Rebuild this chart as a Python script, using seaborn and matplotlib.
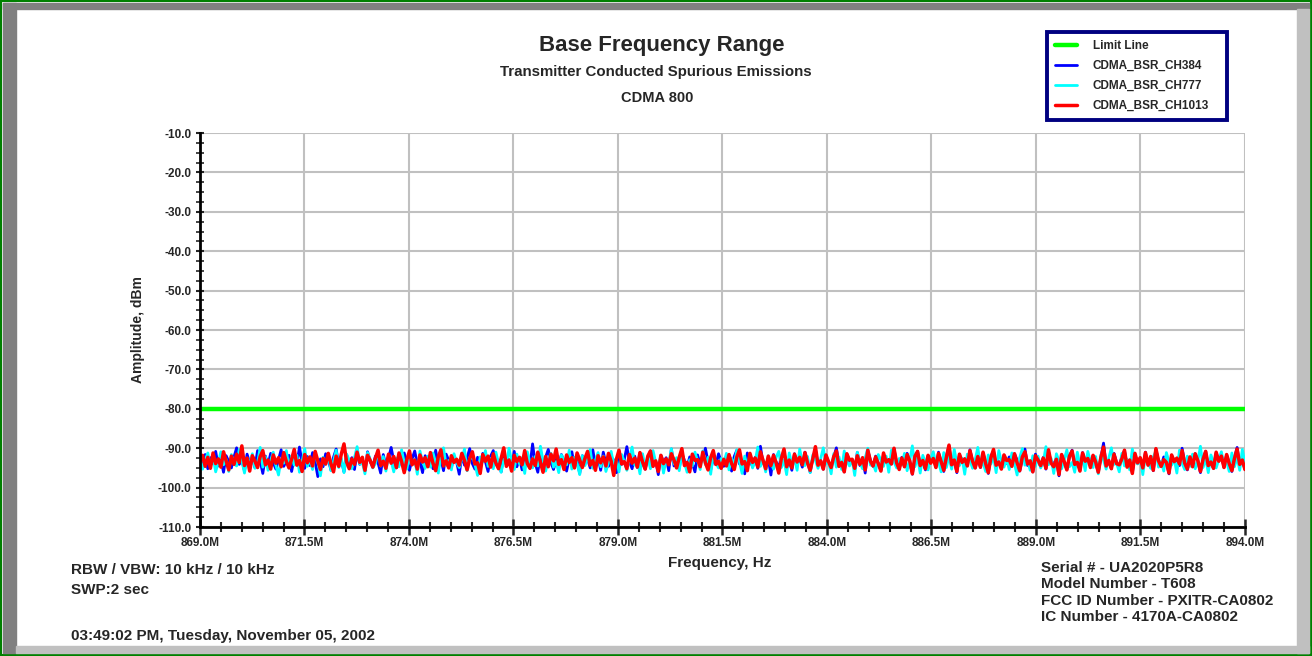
import numpy as np
import pandas as pd
import matplotlib
matplotlib.use("Agg")
import matplotlib.pyplot as plt
from matplotlib.patches import Rectangle
from matplotlib.ticker import MultipleLocator, FormatStrFormatter, FuncFormatter
import seaborn as sns

# sweep span (MHz) and limit
f_start, f_stop = 869.0, 894.0
limit_freq = [869.0, 894.0]
limit_level = [-80.0, -80.0]

# traces (dBm), low to high frequency
ch384 = [
    -93.1, -94.8, -91.6, -95.2, -92.4, -93.9, -90.8, -94.5, -92.9, -96.1,
    -91.9, -93.4, -95.0, -92.2, -89.9, -94.1, -93.0, -95.7, -91.5, -93.8,
    -92.6, -94.9, -90.6, -93.3, -96.4, -92.0, -94.2, -91.3, -93.7, -95.3,
    -92.8, -90.4, -94.6, -93.2, -91.8, -95.9, -92.5, -94.0, -89.7, -93.6,
    -95.1, -92.1, -94.4, -91.1, -93.5, -97.2, -92.7, -94.7, -91.4, -93.0,
    -95.5, -92.3, -90.2, -94.3, -93.1, -96.0, -91.7, -93.9, -92.4, -95.4,
    -91.0, -94.1, -92.9, -95.8, -90.9, -93.4, -94.8, -92.0, -93.7, -96.3,
    -91.6, -94.5, -92.6, -89.8, -93.2, -95.0, -92.2, -94.2, -91.2, -93.8,
    -95.6, -92.7, -90.7, -94.0, -93.3, -96.2, -91.9, -93.6, -92.5, -95.2,
    -90.5, -94.4, -92.8, -95.7, -91.5, -93.1, -94.9, -92.1, -93.5, -96.6,
    -91.8, -94.3, -92.4, -90.1, -93.9, -95.3, -92.3, -94.6, -91.3, -93.4,
    -95.9, -92.0, -90.6, -94.1, -93.0, -96.0, -91.7, -93.7, -92.9, -95.1,
    -90.8, -94.7, -92.6, -95.5, -91.1, -93.2, -94.5, -88.9, -93.8, -96.1,
    -91.4, -94.2, -92.2, -90.3, -93.6, -95.4, -92.8, -94.0, -91.6, -93.3,
    -95.8, -92.5, -90.9, -94.8, -93.1, -96.4, -91.9, -93.5, -92.7, -95.0,
    -90.4, -94.4, -92.1, -95.6, -91.0, -93.9, -94.6, -92.3, -93.0, -96.2,
    -91.5, -94.1, -92.9, -89.6, -93.4, -95.2, -92.0, -94.9, -91.2, -93.7,
    -95.3, -92.6, -90.7, -94.3, -93.2, -96.7, -91.8, -93.6, -92.4, -95.7,
    -90.2, -94.5, -92.8, -95.1, -91.3, -93.1, -94.7, -92.2, -93.8, -96.0,
    -91.7, -94.0, -92.5, -90.0, -93.5, -95.5, -92.7, -94.2, -91.4, -93.3,
    -94.6, -91.9, -93.3, -95.8, -92.1, -90.5, -94.0, -93.6, -96.5, -91.2,
    -93.0, -94.7, -92.3, -95.1, -89.5, -93.8, -94.3, -92.6, -96.8, -91.6,
    -93.5, -95.0, -92.0, -90.9, -94.5, -93.2, -95.6, -91.4, -93.9, -92.7,
    -94.8, -91.0, -93.4, -96.1, -92.4, -90.3, -94.2, -93.1, -95.3, -91.8,
    -93.6, -94.9, -92.2, -89.9, -94.1, -93.7, -96.0, -91.5, -93.3, -92.8,
    -95.4, -91.1, -94.4, -92.5, -96.3, -90.6, -93.0, -94.6, -92.0, -93.8,
    -95.7, -91.7, -93.4, -92.9, -94.0, -90.1, -93.9, -95.2, -92.3, -94.7,
    -91.3, -93.2, -96.6, -92.6, -90.8, -94.3, -93.5, -95.5, -91.9, -93.1,
    -92.4, -94.8, -91.0, -93.7, -95.9, -92.1, -89.4, -94.5, -93.0, -96.2,
    -91.6, -93.6, -92.7, -94.2, -90.4, -93.3, -95.0, -92.5, -94.9, -91.2,
    -93.8, -96.4, -92.0, -90.7, -94.6, -93.4, -95.1, -91.8, -93.9, -92.2,
    -94.1, -91.4, -93.0, -95.8, -92.8, -90.2, -94.4, -93.6, -96.0, -91.5,
    -93.2, -94.7, -92.3, -95.3, -90.9, -93.5, -94.0, -92.6, -97.0, -91.7,
    -93.7, -95.4, -92.1, -90.5, -94.8, -93.1, -95.6, -91.1, -93.4, -92.9,
    -94.3, -91.9, -93.8, -96.1, -92.4, -88.7, -94.2, -93.3, -95.2, -91.3,
    -93.6, -94.9, -92.0, -90.6, -94.5, -93.0, -96.3, -91.6, -93.9, -92.7,
    -95.0, -91.0, -94.1, -92.5, -95.7, -90.3, -93.2, -94.6, -92.2, -93.5,
    -96.5, -91.8, -93.4, -92.8, -94.4, -90.0, -93.7, -95.5, -92.3, -94.0,
    -91.4, -93.1, -96.2, -92.6, -90.8, -94.7, -93.6, -95.1, -91.2, -93.3,
    -92.1, -94.8, -91.7, -93.8, -95.9, -92.4, -89.8, -94.3, -93.0, -95.4,
]
ch777 = [
    -92.4, -95.3, -93.0, -91.2, -94.7, -92.1, -96.0, -93.6, -90.9, -94.2,
    -92.8, -95.9, -91.6, -93.9, -94.5, -90.3, -93.2, -96.3, -92.5, -94.0,
    -91.4, -95.1, -93.7, -89.8, -94.8, -92.2, -95.6, -93.1, -91.0, -94.4,
    -96.8, -92.7, -93.8, -90.6, -95.0, -92.0, -94.3, -91.8, -96.1, -93.4,
    -90.1, -94.6, -92.9, -95.4, -91.3, -93.5, -97.0, -92.3, -94.1, -91.7,
    -95.7, -93.3, -90.5, -94.9, -92.6, -96.2, -91.5, -93.0, -95.2, -92.4,
    -89.6, -94.0, -93.6, -96.5, -91.1, -92.8, -95.0, -93.9, -90.8, -94.5,
    -92.1, -95.8, -91.9, -93.2, -96.0, -92.5, -94.7, -90.4, -93.7, -95.3,
    -91.6, -94.2, -92.9, -96.6, -90.7, -93.4, -95.1, -92.0, -94.8, -91.2,
    -93.8, -96.3, -92.3, -89.9, -94.4, -93.1, -95.5, -91.4, -93.6, -94.9,
    -92.7, -90.2, -95.7, -93.0, -91.8, -94.1, -96.9, -92.2, -93.5, -90.6,
    -94.6, -92.6, -95.2, -91.0, -93.9, -96.1, -92.8, -94.3, -90.0, -93.3,
    -95.4, -91.5, -94.0, -92.4, -96.4, -90.9, -93.7, -95.0, -92.1, -94.5,
    -89.5, -93.2, -95.8, -92.9, -91.3, -94.8, -93.4, -96.2, -91.7, -93.0,
    -94.2, -90.5, -95.3, -92.3, -93.8, -96.7, -91.9, -94.4, -92.6, -90.3,
    -95.1, -93.1, -91.1, -94.7, -92.0, -95.9, -93.6, -90.8, -94.1, -92.7,
    -96.0, -91.6, -93.3, -95.6, -92.5, -89.7, -94.3, -93.0, -96.5, -91.4,
    -94.9, -92.2, -95.2, -90.6, -93.5, -94.6, -91.8, -96.3, -92.8, -93.9,
    -90.1, -94.0, -92.4, -95.7, -91.2, -93.7, -96.1, -92.9, -94.5, -91.0,
    -93.2, -95.4, -90.7, -94.2, -92.3, -96.6, -91.5, -93.8, -95.0, -92.6,
    -93.9, -91.3, -95.5, -92.6, -94.1, -90.4, -93.4, -96.4, -92.0, -94.7,
    -91.5, -95.0, -93.2, -89.7, -94.6, -92.8, -96.0, -91.9, -93.6, -95.3,
    -92.3, -90.8, -94.9, -93.0, -96.7, -91.2, -94.2, -92.5, -95.6, -90.2,
    -93.8, -94.4, -92.1, -96.2, -91.7, -93.1, -95.1, -92.7, -89.9, -94.0,
    -93.5, -96.5, -91.4, -94.8, -92.2, -95.4, -90.7, -93.3, -94.5, -92.9,
    -96.9, -91.0, -93.7, -95.2, -92.4, -90.0, -94.3, -93.9, -95.8, -91.6,
    -93.0, -94.6, -92.0, -96.1, -90.5, -93.5, -95.0, -92.6, -94.2, -91.3,
    -95.7, -93.2, -89.4, -94.7, -92.3, -96.3, -91.8, -93.6, -95.5, -92.8,
    -90.9, -94.1, -93.4, -96.0, -91.1, -94.9, -92.1, -95.3, -90.3, -93.8,
    -94.4, -92.5, -96.6, -91.5, -93.1, -95.1, -92.9, -89.8, -94.5, -93.7,
    -95.9, -91.7, -94.0, -92.2, -96.2, -90.6, -93.3, -94.8, -92.7, -95.4,
    -91.2, -93.9, -96.8, -92.4, -90.1, -94.3, -93.0, -95.6, -91.9, -94.6,
    -92.0, -95.0, -93.5, -89.6, -94.2, -92.6, -96.4, -91.4, -93.2, -95.2,
    -92.9, -90.4, -94.7, -93.6, -96.1, -91.0, -94.4, -92.3, -95.7, -90.8,
    -93.4, -94.9, -92.1, -96.5, -91.6, -93.0, -95.3, -92.5, -89.9, -94.1,
    -93.8, -96.0, -91.3, -94.5, -92.8, -95.5, -90.2, -93.1, -94.0, -92.4,
    -96.7, -91.8, -93.7, -95.1, -92.2, -90.7, -94.8, -93.3, -95.8, -91.1,
    -93.5, -94.3, -92.7, -96.3, -90.5, -93.9, -95.4, -92.0, -94.6, -91.5,
    -95.2, -93.2, -89.5, -94.9, -92.6, -96.2, -91.7, -93.6, -95.0, -92.9,
    -90.9, -94.2, -93.4, -95.9, -91.2, -94.7, -92.3, -95.6, -90.3, -93.8,
]
ch1013 = [
    -93.5, -91.8, -94.6, -92.3, -95.1, -91.2, -93.9, -92.7, -94.8, -90.9,
    -93.2, -95.5, -92.0, -94.1, -91.5, -93.6, -89.4, -94.4, -92.5, -95.8,
    -91.9, -93.3, -94.9, -92.1, -90.6, -94.2, -93.0, -95.3, -91.7, -93.8,
    -92.4, -94.7, -91.1, -93.4, -95.0, -92.8, -90.3, -94.3, -93.1, -95.9,
    -91.6, -93.7, -92.2, -94.5, -90.8, -93.2, -95.4, -92.6, -94.0, -91.3,
    -93.9, -96.0, -92.0, -94.6, -91.4, -88.9, -93.5, -95.2, -92.7, -94.1,
    -91.0, -93.6, -92.3, -95.6, -91.8, -93.1, -94.8, -92.5, -90.5, -94.4,
    -93.3, -95.1, -91.5, -93.8, -92.1, -94.9, -91.2, -93.4, -96.2, -92.9,
    -90.7, -94.2, -93.0, -95.3, -91.7, -93.5, -92.4, -94.7, -91.1, -93.9,
    -95.7, -92.2, -90.4, -94.5, -93.2, -95.0, -91.9, -93.6, -92.8, -94.3,
    -91.3, -93.1, -95.5, -92.6, -90.9, -94.0, -93.7, -96.4, -91.6, -93.3,
    -92.0, -94.8, -91.4, -93.8, -95.2, -92.5, -89.9, -94.6, -93.0, -95.8,
    -91.8, -93.4, -92.3, -94.2, -90.6, -93.9, -95.1, -92.7, -94.4, -91.0,
    -93.5, -96.1, -92.1, -94.7, -91.5, -93.2, -90.2, -94.1, -92.9, -95.4,
    -91.7, -93.6, -92.4, -95.0, -91.2, -93.0, -94.9, -92.6, -90.8, -94.3,
    -93.1, -95.6, -91.9, -93.7, -92.2, -94.5, -91.3, -93.3, -96.9, -92.8,
    -90.5, -94.0, -93.4, -95.2, -91.6, -93.8, -92.5, -94.8, -91.1, -93.5,
    -95.3, -92.0, -90.7, -94.6, -93.2, -95.9, -91.8, -93.9, -92.7, -94.2,
    -91.4, -93.0, -95.0, -92.3, -90.1, -94.4, -93.6, -96.0, -91.5, -93.1,
    -92.9, -94.7, -91.0, -93.7, -95.5, -92.4, -90.6, -94.1, -93.3, -95.1,
    -92.8, -94.5, -91.6, -93.9, -95.4, -92.2, -90.4, -94.0, -93.4, -95.7,
    -91.3, -93.6, -92.5, -94.8, -90.9, -93.1, -95.2, -92.0, -94.4, -91.8,
    -93.7, -96.3, -92.6, -90.2, -94.7, -93.0, -95.0, -91.5, -93.5, -92.3,
    -94.2, -91.1, -93.8, -95.6, -92.7, -89.6, -94.3, -93.2, -95.3, -91.7,
    -93.4, -94.9, -92.1, -90.7, -94.6, -93.6, -96.0, -91.4, -93.0, -92.8,
    -95.1, -91.9, -94.1, -92.4, -95.5, -90.5, -93.3, -94.5, -92.2, -93.9,
    -95.8, -91.2, -93.5, -92.9, -94.0, -90.0, -93.7, -95.4, -92.5, -94.7,
    -91.6, -93.2, -96.5, -92.0, -90.8, -94.4, -93.1, -95.2, -91.8, -93.8,
    -92.6, -94.9, -91.3, -93.4, -95.6, -92.3, -89.2, -94.2, -93.0, -95.9,
    -91.5, -93.6, -92.7, -94.5, -90.6, -93.3, -95.0, -92.1, -94.8, -91.0,
    -93.9, -96.2, -92.4, -90.3, -94.3, -93.5, -95.3, -91.7, -93.1, -92.9,
    -94.6, -91.4, -93.7, -95.7, -92.2, -90.9, -94.0, -93.2, -96.0, -91.9,
    -93.0, -94.4, -92.5, -95.1, -90.4, -93.8, -94.7, -92.8, -96.7, -91.6,
    -93.4, -95.5, -92.0, -90.7, -94.1, -93.6, -95.8, -91.2, -93.3, -92.6,
    -94.9, -91.8, -93.5, -96.1, -92.3, -89.7, -94.5, -93.1, -95.2, -91.5,
    -93.9, -94.2, -92.7, -90.5, -94.8, -93.0, -96.4, -91.3, -93.7, -92.4,
    -95.0, -91.1, -94.3, -92.1, -95.6, -90.1, -93.2, -94.6, -92.9, -93.6,
    -96.3, -91.7, -93.4, -92.5, -94.0, -90.6, -93.8, -95.3, -92.2, -94.7,
    -91.4, -93.1, -95.9, -92.8, -90.8, -94.4, -93.5, -95.1, -91.0, -93.3,
    -92.0, -94.9, -91.6, -93.9, -95.7, -92.6, -90.2, -94.1, -93.0, -95.4,
]

freq = np.linspace(f_start, f_stop, len(ch384))

sns.set_style("white")
plt.rcParams["font.family"] = ["Liberation Sans", "DejaVu Sans"]
plt.rcParams["font.weight"] = "bold"

fig = plt.figure(figsize=(13.12, 6.56), dpi=100)
ax = fig.add_axes([0.1524, 0.1966, 0.7965, 0.6006])

# frame round the picture
fig.patches.extend([
    Rectangle((0, 0), 1, 1, transform=fig.transFigure, fill=False,
              edgecolor="#008000", lw=3, zorder=0),
    Rectangle((3 / 1312, 3 / 656), 13 / 1312, 650 / 656, transform=fig.transFigure,
              color="#808080", zorder=0),
    Rectangle((3 / 1312, 647 / 656), 1306 / 1312, 6 / 656, transform=fig.transFigure,
              color="#808080", zorder=0),
    Rectangle((1297 / 1312, 3 / 656), 12 / 1312, 644 / 656, transform=fig.transFigure,
              color="#C0C0C0", zorder=0),
    Rectangle((16 / 1312, 3 / 656), 1293 / 1312, 7 / 656, transform=fig.transFigure,
              color="#C0C0C0", zorder=0),
])

sns.lineplot(x=limit_freq, y=limit_level, ax=ax, color="#00FF00", lw=3.2,
             label="Limit Line", zorder=5)
sns.lineplot(x=freq, y=ch384, ax=ax, color="#0000FF", lw=2.0,
             label="CDMA_BSR_CH384", zorder=2)
sns.lineplot(x=freq, y=ch777, ax=ax, color="#00FFFF", lw=2.0,
             label="CDMA_BSR_CH777", zorder=3)
sns.lineplot(x=freq, y=ch1013, ax=ax, color="#FF0000", lw=2.5,
             label="CDMA_BSR_CH1013", zorder=4)

ax.set_xlim(f_start, f_stop)
ax.set_ylim(-110, -10)
ax.xaxis.set_major_locator(MultipleLocator(2.5, offset=f_start))
ax.xaxis.set_minor_locator(MultipleLocator(0.5, offset=f_start))
ax.yaxis.set_major_locator(MultipleLocator(10))
ax.yaxis.set_minor_locator(MultipleLocator(2.5))
ax.xaxis.set_major_formatter(FuncFormatter(lambda v, p: f"{v:.1f}M"))
ax.yaxis.set_major_formatter(FormatStrFormatter("%.1f"))
ax.grid(True, which="major", color="#C0C0C0", lw=1.5)
ax.set_axisbelow(True)

for s in ["top", "right"]:
    ax.spines[s].set_visible(False)
for s in ["left", "bottom"]:
    ax.spines[s].set_color("black")
    ax.spines[s].set_linewidth(2)
    ax.spines[s].set_zorder(6)

ax.tick_params(axis="x", which="major", direction="inout", length=11, width=1.8,
               labelsize=8.5, pad=2)
ax.tick_params(axis="x", which="minor", direction="inout", length=7, width=1.5)
ax.tick_params(axis="y", which="major", direction="inout", length=6, width=1.5,
               labelsize=8.5, pad=3)
ax.tick_params(axis="y", which="minor", direction="inout", length=6, width=1.2)
ax.tick_params(which="both", bottom=True, left=True)

ax.set_xlabel("Frequency, Hz", fontsize=11, fontweight="bold")
ax.set_ylabel("Amplitude, dBm", fontsize=10, fontweight="bold")
ax.xaxis.label.set_va("center")
ax.yaxis.label.set_va("center")
ax.xaxis.set_label_coords(0.497, (527 - 563) / 394)
ax.yaxis.set_label_coords((138 - 200) / 1045, 0.5)

fig.text(662 / 1312, 1 - 45 / 656, "Base Frequency Range", ha="center", va="center",
         fontsize=16, fontweight="bold")
fig.text(656 / 1312, 1 - 72 / 656, "Transmitter Conducted Spurious Emissions",
         ha="center", va="center", fontsize=10.8, fontweight="bold")
fig.text(657 / 1312, 1 - 98 / 656, "CDMA 800", ha="center", va="center",
         fontsize=10.5, fontweight="bold")

fig.text(71 / 1312, 1 - 570 / 656, "RBW / VBW: 10 kHz / 10 kHz", ha="left",
         va="center", fontsize=11, fontweight="bold")
fig.text(71 / 1312, 1 - 590 / 656, "SWP:2 sec", ha="left", va="center",
         fontsize=11, fontweight="bold")
fig.text(71 / 1312, 1 - 636 / 656, "03:49:02 PM, Tuesday, November 05, 2002",
         ha="left", va="center", fontsize=11, fontweight="bold")

info_lines = ["Serial # - UA2020P5R8", "Model Number - T608",
              "FCC ID Number - PXITR-CA0802", "IC Number - 4170A-CA0802"]
for i, line in enumerate(info_lines):
    fig.text(1041 / 1312, 1 - (568 + 16.3 * i) / 656, line, ha="left",
             va="center", fontsize=11, fontweight="bold")

handles, labels = ax.get_legend_handles_labels()
ax.get_legend().remove()
leg = fig.legend(handles, labels, loc="upper left",
                 bbox_to_anchor=(1047 / 1312, 1 - 39 / 656, 180 / 1312, 0.01),
                 mode="expand", fontsize=8.5, frameon=True, fancybox=False,
                 framealpha=1.0, handlelength=1.9, handletextpad=1.3,
                 labelspacing=0.66, borderpad=0.68, borderaxespad=0)
leg.get_frame().set_edgecolor("#000080")
leg.get_frame().set_linewidth(2.8)
for t in leg.get_texts():
    t.set_fontweight("bold")

fig.savefig("out.png", dpi=100, facecolor="white")
